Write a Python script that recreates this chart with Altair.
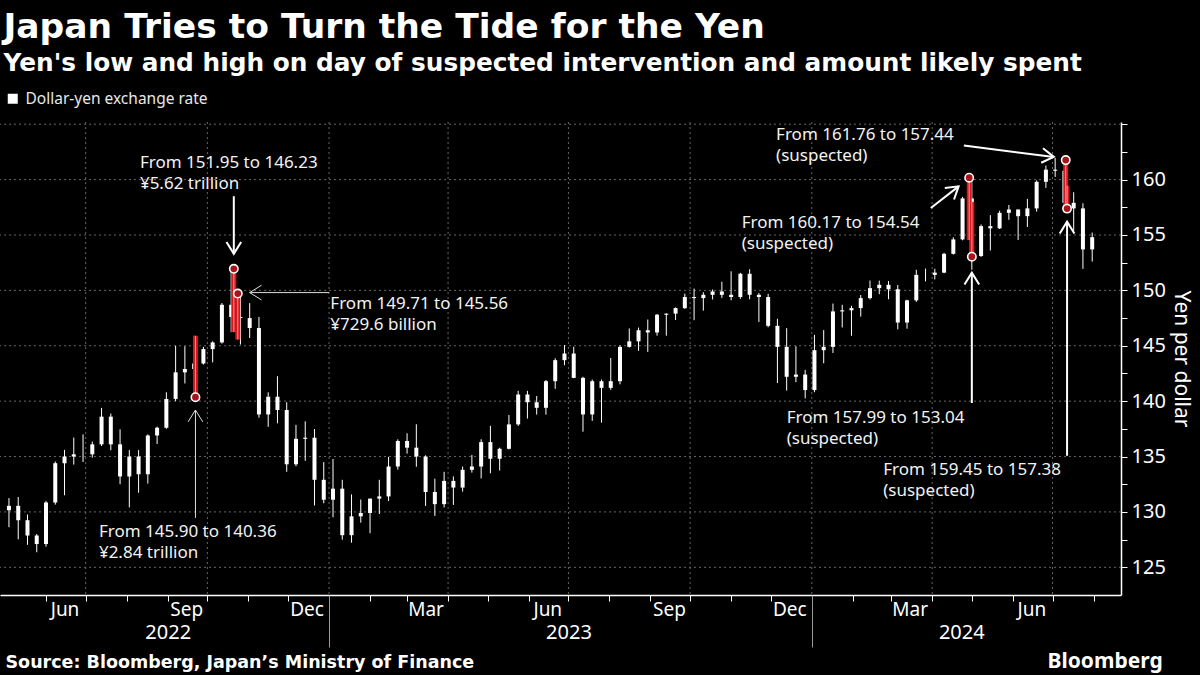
import altair as alt
import pandas as pd

FONT = "Noto Sans"
HEAD_FONT = "DejaVu Sans"

# ---------------- weekly dollar-yen candles (week of Monday, plotted mid-week) ----------------
open_2022 = [130.15, 130.55, 129.25, 127.87, 127.10, 130.85, 134.40, 135.00, 135.20, 135.20, 136.10, 138.60,
             136.10, 133.20, 135.00, 133.40, 136.90, 137.60, 140.20, 142.60, 142.90, 143.40, 144.70, 145.30,
             148.70, 147.60, 147.50, 146.60, 138.80, 140.40, 139.20, 134.30, 136.60, 136.70, 132.90]
high_2022 = [131.25, 131.35, 129.77, 128.00, 130.98, 134.56, 135.60, 136.71, 137.00, 136.35, 139.39, 138.88,
             137.46, 135.58, 135.58, 137.00, 137.70, 140.80, 144.99, 144.95, 145.90, 144.90, 145.40, 148.86,
             151.95, 149.71, 148.85, 147.60, 140.80, 142.25, 139.90, 137.86, 138.18, 137.48, 134.50]
low_2022 = [128.62, 127.52, 127.03, 126.36, 126.86, 130.66, 131.50, 134.27, 134.50, 134.90, 135.95, 135.57,
            132.50, 130.41, 131.73, 132.56, 136.13, 137.50, 140.00, 141.60, 140.36, 143.30, 143.50, 145.20,
            146.23, 145.11, 145.70, 138.50, 137.68, 138.00, 133.62, 134.12, 134.61, 130.58, 130.78]
close_2022 = [130.55, 129.25, 127.87, 127.10, 130.85, 134.40, 135.00, 135.20, 135.20, 136.10, 138.60, 136.10,
              133.20, 135.00, 133.40, 136.90, 137.60, 140.20, 142.60, 142.90, 143.40, 144.70, 145.30, 148.70,
              147.60, 147.50, 146.60, 138.80, 140.40, 139.20, 134.30, 136.60, 136.70, 132.90, 131.10]

open_2023 = [131.10, 132.10, 127.90, 129.60, 129.90, 131.20, 131.40, 134.10, 136.40, 135.80, 135.00, 131.80,
             130.70, 132.80, 132.20, 133.80, 134.10, 136.30, 134.80, 135.70, 137.90, 140.60, 139.90, 139.40,
             141.80, 143.70, 144.30, 142.10, 138.80, 141.80, 141.20, 141.80, 144.90, 145.40, 146.40, 146.20,
             147.80, 147.90, 148.40, 149.40, 149.30, 149.60, 149.90, 149.60, 149.40, 151.50, 149.60, 149.40,
             146.80, 144.90, 142.20, 142.40]
high_2023 = [134.78, 132.90, 131.58, 131.12, 131.20, 132.90, 134.97, 136.55, 137.10, 137.91, 135.11, 133.00,
             133.62, 133.21, 134.10, 135.14, 136.56, 137.77, 135.80, 138.75, 140.93, 140.93, 140.46, 141.91,
             143.87, 145.07, 144.91, 142.20, 141.95, 141.95, 143.89, 145.04, 146.56, 146.64, 147.37, 147.87,
             147.92, 148.46, 149.71, 150.16, 149.83, 150.08, 150.78, 151.72, 151.58, 151.91, 149.75, 149.69,
             147.43, 146.59, 144.96, 142.82]
low_2023 = [129.52, 127.49, 127.22, 129.03, 128.08, 129.81, 130.98, 133.82, 135.26, 134.08, 130.54, 129.64,
            130.40, 130.63, 131.83, 133.55, 133.02, 133.49, 133.74, 135.64, 137.77, 138.43, 138.79, 138.78,
            141.11, 143.24, 142.07, 137.24, 138.22, 138.06, 141.02, 141.52, 144.84, 144.54, 144.44, 145.91,
            145.91, 147.32, 148.32, 147.31, 148.17, 149.18, 149.32, 149.10, 149.23, 149.20, 147.15, 146.67,
            141.63, 140.95, 141.71, 140.25]
close_2023 = [132.10, 127.90, 129.60, 129.90, 131.20, 131.40, 134.10, 136.40, 135.80, 135.00, 131.80, 130.70,
              132.80, 132.20, 133.80, 134.10, 136.30, 134.80, 135.70, 137.90, 140.60, 139.90, 139.40, 141.80,
              143.70, 144.30, 142.10, 138.80, 141.80, 141.20, 141.80, 144.90, 145.40, 146.40, 146.20, 147.80,
              147.90, 148.40, 149.40, 149.30, 149.60, 149.90, 149.60, 149.40, 151.50, 149.60, 149.40, 146.80,
              144.90, 142.20, 142.40, 141.00]

open_2024 = [141.00, 144.60, 144.90, 148.10, 148.20, 148.40, 149.30, 150.20, 150.50, 150.10, 147.10, 149.10,
             151.40, 151.40, 151.60, 153.30, 154.60, 158.30, 153.10, 155.80, 155.60, 157.00, 157.30, 156.70,
             157.40, 159.80, 160.90, 160.80, 157.90, 157.40, 153.70]
high_2024 = [145.98, 146.41, 148.81, 148.70, 148.60, 149.58, 150.89, 150.88, 150.84, 150.48, 149.16, 151.86,
             151.97, 151.95, 153.39, 154.79, 158.44, 160.17, 155.95, 156.79, 157.19, 157.71, 157.30, 158.26,
             159.93, 161.27, 161.95, 161.76, 158.86, 157.86, 155.22]
low_2024 = [140.81, 143.42, 144.35, 146.65, 145.90, 147.63, 149.18, 149.66, 149.20, 146.48, 146.54, 148.96,
            150.81, 150.99, 151.55, 153.23, 154.52, 151.86, 153.02, 153.60, 155.54, 156.37, 154.55, 155.72,
            157.11, 159.25, 160.24, 157.38, 155.37, 151.94, 152.60]
close_2024 = [144.60, 144.90, 148.10, 148.20, 148.40, 149.30, 150.20, 150.50, 150.10, 147.10, 149.10, 151.40,
              151.40, 151.60, 153.30, 154.60, 158.30, 153.10, 155.80, 155.60, 157.00, 157.30, 156.70, 157.40,
              159.80, 160.90, 160.80, 157.90, 157.40, 153.70, 154.80]

opens = open_2022 + open_2023 + open_2024
highs = high_2022 + high_2023 + high_2024
lows = low_2022 + low_2023 + low_2024
closes = close_2022 + close_2023 + close_2024
week_dates = pd.date_range("2022-05-04", periods=len(closes), freq="7D").strftime("%Y-%m-%d").tolist()

# ---------------- suspected intervention days ----------------
interv_dates = ["2022-09-22", "2022-10-21", "2022-10-24", "2024-04-29", "2024-05-01", "2024-07-11", "2024-07-12"]
interv_high = [145.90, 151.95, 149.71, 160.17, 157.99, 161.76, 159.45]
interv_low = [140.36, 146.23, 145.56, 154.54, 153.04, 157.44, 157.38]

marker_dates = ["2022-09-22", "2022-10-21", "2022-10-24", "2024-04-29", "2024-05-01", "2024-07-11", "2024-07-12"]
marker_values = [140.36, 151.95, 149.71, 160.17, 153.04, 161.76, 157.38]

# ---------------- annotations ----------------
note_dates = ["2022-08-11", "2023-01-02", "2022-07-11", "2023-12-05", "2023-11-09", "2023-12-13", "2024-02-24"]
note_values = [161.08, 148.35, 127.78, 163.57, 155.64, 138.02, 133.35]
note_line1 = ["From 151.95 to 146.23", "From 149.71 to 145.56", "From 145.90 to 140.36",
              "From 161.76 to 157.44", "From 160.17 to 154.54", "From 157.99 to 153.04",
              "From 159.45 to 157.38"]
note_line2 = ["¥5.62 trillion", "¥729.6 billion", "¥2.84 trillion", "(suspected)", "(suspected)",
              "(suspected)", "(suspected)"]

arrow_x1 = ["2022-10-21", "2023-01-01", "2022-09-22", "2024-04-25", "2024-03-31", "2024-05-01", "2024-07-12"]
arrow_y1 = [158.50, 149.80, 129.46, 163.07, 157.44, 139.83, 135.07]
arrow_x2 = ["2022-10-21", "2022-11-02", "2022-09-22", "2024-07-02", "2024-04-21", "2024-05-01", "2024-07-12"]
arrow_y2 = [153.30, 149.80, 139.20, 162.05, 159.39, 151.60, 156.20]
arrow_angle = [90, 180, 270, 7, 321, 270, 270]
arrow_weight = ["thick", "thin", "thin", "thick", "thick", "thick", "thick"]

# ---------------- axes helpers ----------------
grid_values = [125, 130, 135, 140, 145, 150, 155, 160, 165]
y_tick_values = [125 + 2.5 * i for i in range(17)]
quarter_dates = ["2022-07-01", "2022-10-01", "2023-01-01", "2023-04-01", "2023-07-01", "2023-10-01",
                 "2024-01-01", "2024-04-01", "2024-07-01"]
month_label_dates = ["2022-06-15", "2022-09-15", "2022-12-15", "2023-03-15", "2023-06-15", "2023-09-15",
                     "2023-12-15", "2024-03-15", "2024-06-15"]
year_label_dates = ["2022-09-01", "2023-07-01", "2024-04-23"]
year_sep_dates = ["2023-01-01", "2024-01-01"]


def dt(s):
    y, m, d = (int(p) for p in s.split("-"))
    return alt.DateTime(year=y, month=m, date=d, utc=True)


month_starts = [dt(d.strftime("%Y-%m-%d")) for d in pd.date_range("2022-06-01", "2024-08-01", freq="MS")]

x_scale = alt.Scale(type="utc", domain=[dt("2022-05-01"), dt("2024-08-18")])
y_scale = alt.Scale(domain=[122.5, 165.2], nice=False, zero=False)

candles = pd.DataFrame({"date": week_dates, "open": opens, "high": highs, "low": lows, "close": closes,
                        "series": "Dollar-yen exchange rate"})
interv = pd.DataFrame({"date": interv_dates, "high": interv_high, "low": interv_low})
markers = pd.DataFrame({"date": marker_dates, "value": marker_values})
notes = pd.DataFrame({"date": note_dates, "value": note_values, "l1": note_line1, "l2": note_line2})
arrows = pd.DataFrame({"x1": arrow_x1, "y1": arrow_y1, "x2": arrow_x2, "y2": arrow_y2,
                       "ang": arrow_angle, "w": arrow_weight})

axis_ticks = alt.Axis(orient="bottom", values=month_starts, labels=False, ticks=True, tickSize=6,
                      tickColor="white", tickWidth=1, domain=True, domainColor="white", domainWidth=1.5,
                      grid=False, title=None)
axis_months = alt.Axis(orient="bottom", values=[dt(d) for d in month_label_dates], format="%b",
                       ticks=False, domain=False, grid=False, labelColor="white", labelFontSize=19,
                       labelFont=FONT, labelPadding=5, labelFlush=False, labelOverlap=False,
                       title="Bloomberg", titleX=1047, titleY=72, titleAlign="left", titleAnchor="start",
                       titleBaseline="alphabetic", titleFontSize=21, titleFontWeight="bold",
                       titleColor="white", titleFont=FONT)
axis_years = alt.Axis(orient="bottom", values=[dt(d) for d in year_label_dates], format="%Y",
                      ticks=False, domain=False, grid=False, labelColor="white", labelFontSize=20,
                      labelFont=FONT, labelPadding=27, labelFlush=False, labelOverlap=False,
                      title="Source: Bloomberg, Japan’s Ministry of Finance", titleX=5, titleY=72,
                      titleAlign="left", titleAnchor="start", titleBaseline="alphabetic", titleFontSize=17.5,
                      titleFontWeight="bold", titleColor="white", titleFont=HEAD_FONT)
axis_sep = alt.Axis(orient="bottom", values=[dt(d) for d in year_sep_dates], labels=False, ticks=True,
                    tickSize=52, tickColor="#9a9a9a", tickWidth=1, domain=False, grid=False, title=None)
y_axis = alt.Axis(orient="right", values=y_tick_values,
                  labelExpr="(datum.value % 5 === 0 && datum.value < 165) ? datum.label : ''",
                  tickSize=6, tickColor="white", domain=True, domainColor="white", domainWidth=1.5,
                  grid=False, labelColor="white", labelFontSize=20, labelFont=FONT, labelPadding=4,
                  labelFlush=False, title="Yen per dollar", titleColor="white", titleFontSize=21,
                  titleFont=FONT, titleFontWeight="normal", titleAngle=90, titlePadding=5)


def Y(field):
    # every layer carries the identical shared y axis definition
    return alt.Y(field, scale=y_scale, axis=y_axis)


GRID = dict(color="#666666", strokeDash=[2, 3], strokeWidth=1)

hgrid = alt.Chart(pd.DataFrame({"v": grid_values})).mark_rule(**GRID).encode(y=Y("v:Q"))
vgrid = alt.Chart(pd.DataFrame({"d": quarter_dates})).mark_rule(**GRID).encode(
    x=alt.X("d:T", scale=x_scale, axis=axis_ticks))

wicks = alt.Chart(candles).mark_rule(color="white", strokeWidth=1).encode(
    x=alt.X("date:T", scale=x_scale, axis=axis_months),
    y=Y("low:Q"), y2="high:Q")

bodies = alt.Chart(candles).mark_bar(size=4).encode(
    x=alt.X("date:T", scale=x_scale, axis=axis_years),
    y=Y("open:Q"), y2="close:Q",
    color=alt.Color("series:N", scale=alt.Scale(range=["#ffffff"]),
                    legend=alt.Legend(orient="none", legendX=5, legendY=-31, title=None,
                                      symbolType="square", symbolSize=100, symbolStrokeWidth=0,
                                      labelFontSize=15.5, labelColor="#e8e8e8", labelFont=FONT,
                                      labelOffset=5, labelLimit=400, padding=0)))

red = alt.Chart(interv).mark_rule(color="#d4161d", strokeWidth=5).encode(
    x=alt.X("date:T", scale=x_scale, axis=axis_sep),
    y=Y("low:Q"), y2="high:Q")
red_hi = alt.Chart(interv).mark_rule(color="#ff9a9a", strokeWidth=1).encode(
    x=alt.X("date:T", scale=x_scale, axis=None),
    y=Y("low:Q"), y2="high:Q")

circles = alt.Chart(markers).mark_circle(size=70, color="#a8121a", opacity=1, stroke="white",
                                         strokeWidth=1.6).encode(
    x=alt.X("date:T", scale=x_scale, axis=None),
    y=Y("value:Q"))

HEAD = "M-1,-0.62L0,0L-1,0.62"


def arrow_layers(kind, width, color):
    base = alt.Chart(arrows).transform_filter(alt.datum.w == kind)
    shaft = base.mark_rule(color=color, strokeWidth=width).encode(
        x=alt.X("x1:T", scale=x_scale, axis=None), x2="x2:T",
        y=Y("y1:Q"), y2="y2:Q")
    head = base.mark_point(shape=HEAD, filled=False, size=560, color=color, strokeWidth=width,
                           opacity=1).encode(
        x=alt.X("x2:T", scale=x_scale, axis=None),
        y=Y("y2:Q"),
        angle=alt.Angle("ang:Q", scale=None))
    return [shaft, head]


def note_layer(field, dy):
    return alt.Chart(notes).mark_text(align="left", baseline="alphabetic", fontSize=17, font=FONT,
                                      color="#f2f2f2", dy=dy).encode(
        x=alt.X("date:T", scale=x_scale, axis=None),
        y=Y("value:Q"),
        text=alt.Text(f"{field}:N"))


layers = [hgrid, vgrid, wicks, bodies, red, red_hi, circles] + arrow_layers("thin", 1, "#dddddd") + \
    arrow_layers("thick", 2, "#ffffff") + [note_layer("l1", 0), note_layer("l2", 21)]

chart = alt.layer(*layers).resolve_axis(x="independent").properties(
    width=1121, height=473,
    autosize=alt.AutoSizeParams(type="none"),
    padding={"left": 0, "top": 122, "right": 79, "bottom": 80},
    background="black",
    title=alt.TitleParams(
        text="Japan Tries to Turn the Tide for the Yen",
        subtitle="Yen's low and high on day of suspected intervention and amount likely spent",
        anchor="start", dx=4, offset=14, color="white", font=HEAD_FONT, fontSize=34.5, fontWeight="bold",
        subtitleColor="white", subtitleFont=HEAD_FONT, subtitleFontSize=24.8, subtitleFontWeight="bold",
        subtitlePadding=6),
).configure_view(stroke=None)

chart.save("out.html", embed_options={"renderer": "svg", "actions": False})
